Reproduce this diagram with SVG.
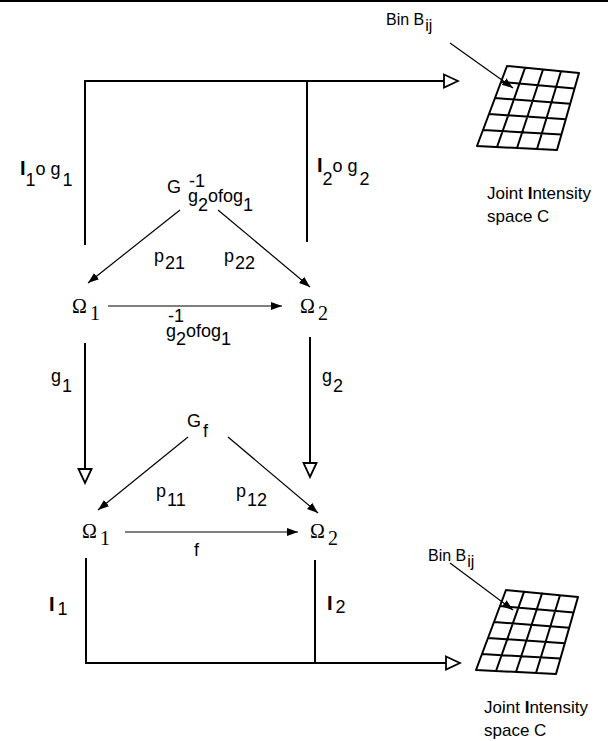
<svg xmlns="http://www.w3.org/2000/svg" width="608" height="741" viewBox="0 0 608 741">
<style>
.t{font-family:"Liberation Sans",Arial,sans-serif;font-size:18px;fill:#000}
.s{font-family:"Liberation Serif","Times New Roman",serif;font-size:20px;fill:#000}
.j{font-family:"Liberation Sans",Arial,sans-serif;font-size:17px;fill:#000}
.k{font-family:"Liberation Sans",Arial,sans-serif;font-size:16px;fill:#000}
.b{font-weight:bold;font-size:20px}
.bj{font-weight:bold}
.box{fill:none;stroke:#000;stroke-width:2}
.thin{fill:none;stroke:#000;stroke-width:1.2}
.grid{fill:none;stroke:#000;stroke-width:2;stroke-linecap:round}
</style>
<defs>
<marker id="fa" markerWidth="12" markerHeight="10" refX="11" refY="5" orient="auto" markerUnits="userSpaceOnUse"><path d="M0,1 L11,5 L0,9 Z" fill="#000"/></marker>
<marker id="oa" markerWidth="18" markerHeight="16" refX="16" refY="8" orient="auto" markerUnits="userSpaceOnUse"><path d="M2,1.5 L16,8 L2,14.5 Z" fill="#fff" stroke="#000" stroke-width="1.8"/></marker>
<path id="grid" class="grid" d="M507,66 L579,73 M501,82 L574.6,88.4 M495,98 L570.2,103.8 M489,114 L565.8,119.2 M483,130 L561.4,134.6 M477,146 L557,150 M507,66 L477,146 M525,67.8 L497,147 M543,69.5 L517,148 M561,71.3 L537,149 M579,73 L557,150"/>
</defs>
<rect x="0" y="0" width="608" height="741" fill="#fff"/>
<rect x="0" y="0" width="608" height="2" fill="#000"/>

<g id="connectors">
<path class="box" d="M85,245 V81 H458" marker-end="url(#oa)"/>
<line class="box" x1="307" y1="81" x2="307" y2="242"/>
<path class="box" d="M86,558 V663 H460" marker-end="url(#oa)"/>
<line class="box" x1="315" y1="560" x2="315" y2="663"/>
<line class="box" x1="85" y1="343" x2="85" y2="483" marker-end="url(#oa)"/>
<line class="box" x1="310" y1="337" x2="310" y2="477" marker-end="url(#oa)"/>
<line class="thin" x1="180" y1="210" x2="88" y2="283" marker-end="url(#fa)"/>
<line class="thin" x1="218" y1="210" x2="310" y2="287" marker-end="url(#fa)"/>
<line class="thin" x1="188" y1="437" x2="98" y2="510" marker-end="url(#fa)"/>
<line class="thin" x1="228" y1="437" x2="318" y2="513" marker-end="url(#fa)"/>
<line class="thin" x1="108" y1="306" x2="282" y2="306" marker-end="url(#fa)"/>
<line class="thin" x1="125" y1="532" x2="298" y2="532" marker-end="url(#fa)"/>
<line class="thin" x1="450" y1="43" x2="513" y2="88" marker-end="url(#fa)"/>
<line class="thin" x1="450" y1="563" x2="513" y2="610" marker-end="url(#fa)"/>
</g>

<g id="label-I1og1"><text class="t" x="20" y="175"><tspan class="b">I</tspan><tspan dy="11">1</tspan><tspan dy="-11">o g</tspan><tspan dx="2" dy="11">1</tspan></text></g>
<g id="label-I2og2"><text class="t" x="317" y="172"><tspan class="b">I</tspan><tspan dy="13">2</tspan><tspan dy="-13">o g</tspan><tspan dx="2" dy="13">2</tspan></text></g>

<g id="node-G-top">
<text class="t" x="167" y="193">G<tspan dx="8" dy="-6">-1</tspan><tspan x="188" dy="15">g</tspan><tspan dy="9">2</tspan><tspan dy="-9">ofog</tspan><tspan dy="9">1</tspan></text>
</g>
<g id="label-p21"><text class="t" x="154" y="262">p<tspan dx="1" dy="7">21</tspan></text></g>
<g id="label-p22"><text class="t" x="224" y="262">p<tspan dx="1" dy="7">22</tspan></text></g>

<g id="node-omega1-top"><text class="s" x="72" y="313">Ω<tspan dx="3" dy="7">1</tspan></text></g>
<g id="node-omega2-top"><text class="s" x="300" y="313">Ω<tspan dx="3" dy="7">2</tspan></text></g>
<g id="label-g2ofog1">
<text class="t" x="168" y="322">-1<tspan x="166" dy="15">g</tspan><tspan dy="8">2</tspan><tspan dy="-8">ofog</tspan><tspan dy="8">1</tspan></text>
</g>

<g id="label-g1"><text class="t" x="51" y="382">g<tspan dx="1" dy="10">1</tspan></text></g>
<g id="label-g2"><text class="t" x="322" y="382">g<tspan dx="1" dy="10">2</tspan></text></g>

<g id="node-Gf"><text class="t" x="187" y="427">G<tspan dx="2" dy="10">f</tspan></text></g>
<g id="label-p11"><text class="t" x="156" y="497">p<tspan dx="1" dy="9">11</tspan></text></g>
<g id="label-p12"><text class="t" x="236" y="497">p<tspan dx="1" dy="9">12</tspan></text></g>

<g id="node-omega1-bottom"><text class="s" x="82" y="538">Ω<tspan dx="3" dy="7">1</tspan></text></g>
<g id="node-omega2-bottom"><text class="s" x="310" y="538">Ω<tspan dx="3" dy="7">2</tspan></text></g>
<g id="label-f"><text class="t" x="194" y="556">f</text></g>

<g id="label-I1"><text class="t" x="49" y="611"><tspan class="b">I</tspan><tspan dx="3" dy="4">1</tspan></text></g>
<g id="label-I2"><text class="t" x="327" y="610"><tspan class="b">I</tspan><tspan dx="3" dy="3">2</tspan></text></g>

<g id="node-space-top">
<use href="#grid"/>
<text class="k" x="386" y="25">Bin B<tspan dx="1" dy="6">ij</tspan></text>
<text class="j" x="487" y="199">Joint <tspan class="bj">I</tspan>ntensity</text>
<text class="j" x="487" y="222">space C</text>
</g>
<g id="node-space-bottom">
<use href="#grid" transform="translate(-1,524)"/>
<text class="k" x="428" y="561">Bin B<tspan dx="1" dy="6">ij</tspan></text>
<text class="j" x="484" y="713">Joint <tspan class="bj">I</tspan>ntensity</text>
<text class="j" x="484" y="736">space C</text>
</g>
</svg>
